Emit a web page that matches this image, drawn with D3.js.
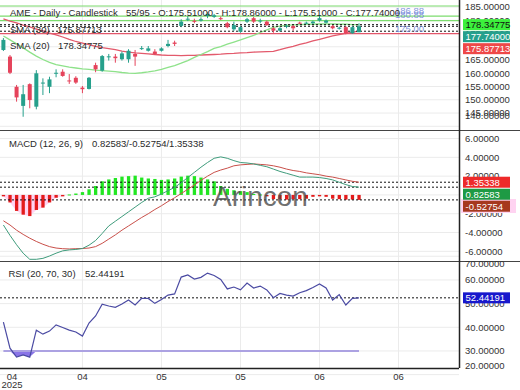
<!DOCTYPE html>
<html>
<head>
<meta charset="utf-8">
<script src="https://cdn.jsdelivr.net/npm/d3@7"></script>
<style>
  body { margin: 0; background: #fff; }
  svg { display: block; font-family: "Liberation Sans", Arial, sans-serif; }
</style>
</head>
<body>
<div id="chart"></div>
<script>
// daily candles (55 bars)
const opens  = [168.8, 166.3, 154.9, 147.7, 155.9, 147.4, 156.2, 154.9, 160.0, 160.6,
                157.3, 158.3, 154.6, 154.1, 163.1, 161.0, 166.2, 166.3, 165.3, 165.3,
                167.3, 169.4, 168.5, 168.2, 168.5, 170.3, 171.6, 177.9, 180.4, 179.8,
                179.9, 181.6, 181.3, 180.8, 178.9, 176.6, 175.7, 179.5, 180.8, 179.8,
                179.5, 177.0, 176.1, 177.8, 177.8, 179.1, 179.0, 178.9, 179.9, 179.1,
                177.8, 177.1, 177.4, 175.1, 175.51]
const highs  = [173.3, 166.9, 155.6, 155.6, 156.2, 161.2, 158.1, 158.7, 161.5, 161.5,
                159.7, 158.9, 155.2, 158.6, 164.0, 166.9, 167.3, 167.3, 168.2, 169.1,
                168.8, 170.3, 170.3, 169.1, 169.8, 172.6, 172.3, 180.4, 181.6, 180.6,
                181.1, 183.1, 182.4, 181.4, 179.4, 179.5, 177.9, 180.9, 181.3, 180.6,
                179.9, 177.4, 177.4, 178.6, 178.2, 179.5, 179.5, 179.9, 181.6, 180.3,
                178.2, 177.6, 177.8, 177.9, 178.86]
const lows   = [168.4, 159.7, 149.3, 143.6, 146.8, 146.4, 151.8, 152.5, 158.5, 158.7,
                156.0, 156.0, 152.5, 153.9, 160.4, 160.6, 164.8, 164.0, 164.8, 164.0,
                162.8, 168.8, 168.2, 166.9, 168.2, 169.8, 170.3, 177.4, 179.7, 178.9,
                179.5, 180.8, 180.9, 180.1, 177.0, 176.0, 175.3, 179.0, 179.0, 178.9,
                177.9, 175.3, 175.7, 177.0, 176.1, 178.6, 178.6, 178.6, 179.5, 178.8,
                176.6, 176.5, 174.7, 174.9, 175.51]
const closes = [172.6, 160.2, 150.9, 152.1, 149.9, 160.0, 156.5, 157.7, 160.2, 159.0,
                157.1, 156.5, 154.0, 158.3, 161.5, 166.5, 166.4, 165.7, 167.5, 168.5,
                166.3, 169.5, 169.4, 167.3, 169.4, 171.1, 171.1, 179.5, 180.6, 179.6,
                180.4, 182.4, 181.9, 180.7, 177.4, 178.2, 177.4, 180.4, 179.5, 179.9,
                178.2, 176.1, 177.0, 177.9, 177.0, 179.0, 179.1, 179.5, 180.8, 179.9,
                177.0, 177.2, 175.1, 177.4, 177.74]

// moving averages
const sma20 = [174.1, 172.6, 171.1, 169.6, 168.0, 166.5, 165.2, 164.1, 163.3, 162.8,
               162.3, 162.0, 161.7, 161.5, 161.2, 161.0, 160.8, 160.6, 160.3, 160.1,
               160.0, 160.2, 160.5, 160.9, 161.5, 162.2, 162.9, 163.8, 164.8, 166.0,
               167.1, 168.2, 169.4, 170.1, 171.0, 171.8, 172.6, 173.5, 174.3, 175.4,
               176.4, 177.3, 177.8, 178.1, 178.3, 178.4, 178.5, 178.5, 178.6, 178.6,
               178.6, 178.5, 178.5, 178.4, 178.35]
const sma30 = [180.5, 179.7, 179.0, 178.2, 177.5, 176.7, 176.0, 175.2, 174.5, 173.7,
               172.8, 172.0, 171.4, 170.8, 170.2, 169.7, 169.3, 168.9, 168.4, 168.0,
               167.7, 167.5, 167.3, 167.1, 166.9, 166.8, 166.8, 166.7, 166.8, 166.8,
               166.9, 167.0, 167.1, 167.2, 167.4, 167.5, 167.7, 167.8, 168.0, 168.1,
               168.2, 168.3, 168.9, 169.6, 170.2, 170.9, 171.5, 172.2, 172.8, 173.5,
               174.1, 174.6, 175.1, 175.5, 175.88]

// macd (12, 26, 9)
const macdLine = [-3.2, -4.3, -5.3, -6.2, -6.85, -6.85, -6.75, -6.5, -6.2, -5.95,
                  -5.85, -5.8, -5.7, -5.35, -4.85, -4.1, -3.3, -2.8, -2.3, -1.8,
                  -1.3, -0.8, -0.35, -0.2, 0.1, 0.45, 0.8, 1.3, 1.85, 2.4,
                  2.95, 3.45, 3.9, 4.05, 3.9, 3.65, 3.45, 3.4, 3.3, 3.15,
                  3.0, 2.75, 2.5, 2.3, 2.1, 1.9, 1.9, 1.9, 1.85, 1.75,
                  1.6, 1.35, 1.1, 0.9, 0.826]
const signalLine = [-2.75, -3.2, -3.75, -4.2, -4.6, -4.95, -5.25, -5.5, -5.65, -5.72,
                    -5.75, -5.72, -5.7, -5.65, -5.5, -5.15, -4.7, -4.25, -3.75, -3.3,
                    -2.85, -2.4, -2.0, -1.55, -1.15, -0.7, -0.3, 0.15, 0.6, 1.05,
                    1.55, 2.0, 2.4, 2.65, 2.85, 3.1, 3.2, 3.25, 3.3, 3.25,
                    3.2, 3.1, 2.95, 2.75, 2.6, 2.5, 2.35, 2.25, 2.15, 2.0,
                    1.9, 1.75, 1.6, 1.45, 1.353]
const histValues = [-0.15, -0.8, -1.7, -2.1, -2.25, -1.6, -1.35, -0.8, -0.3, -0.15,
                    0.05, 0.15, 0.3, 0.6, 0.95, 1.45, 1.65, 1.8, 1.95, 2.0,
                    2.05, 1.85, 1.75, 1.7, 1.6, 1.65, 1.75, 1.95, 2.05, 2.0,
                    1.85, 1.65, 1.45, 0.95, 0.65, 0.5, 0.4, 0.3, 0.1, 0.05,
                    -0.15, -0.45, -0.45, -0.5, -0.45, -0.45, -0.4, -0.2, -0.15, -0.2,
                    -0.4, -0.45, -0.5, -0.5, -0.528]

// rsi (20, 70, 30)
const rsiValues = [42.2, 31.2, 27.4, 28.3, 27.4, 38.8, 37.1, 38.4, 41.0, 39.9,
                   38.8, 38.0, 36.3, 41.8, 44.8, 49.8, 49.0, 48.4, 49.8, 51.5,
                   49.4, 52.2, 52.2, 50.1, 51.7, 53.6, 54.1, 61.2, 62.1, 60.4,
                   61.1, 62.9, 61.9, 60.2, 56.2, 57.0, 55.8, 58.7, 56.6, 57.4,
                   55.8, 52.5, 54.3, 53.6, 53.2, 54.6, 55.5, 56.8, 58.3, 56.6,
                   51.5, 53.8, 49.4, 52.2, 52.44]

// axis ticks and labels
const xTickIdx = [0, 12, 24, 36, 48, 60]
const xTickLabels = ['04', '04', '05', '05', '06', '06']
const priceTicks = [140, 145, 150, 155, 160, 165, 170, 175, 180, 185]
const macdTicks = [-6, -4, -2, 0, 2, 4, 6]
const rsiTicks = [20, 30, 40, 50, 60, 70]

// drawn horizontal levels on the price panel
const greenLevels = [185.4, 181.6, 179.85]
const redLevel = 175.0

var config = {
    width: 520,
    height: 390,
    plotRight: 459,
    price: {top: 0, bottom: 130},
    macd: {top: 130, bottom: 261},
    rsi: {top: 261, bottom: 368},
    upColor: '#26a08c',
    downColor: '#e5435b',
    font: '9.5px "Liberation Sans", Arial, sans-serif',
    grid: '#ebebeb'
}
const { width, height, plotRight, price, macd, rsi, upColor, downColor, font, grid } = config

const svg = d3.select('#chart')
    .append('svg')
    .attr('width', width)
    .attr('height', height)

// scales
const x = d3.scaleLinear().domain([0, closes.length - 1]).range([3.4, 359])
const yPrice = d3.scaleLinear().domain([138.6, 187.66]).range([price.bottom, price.top])
const yMacd = d3.scaleLinear().domain([-7.03, 6.91]).range([macd.bottom, macd.top])
const yRsi = d3.scaleLinear().domain([22.8, 68.0]).range([rsi.bottom, rsi.top])

// clip paths per panel
const defs = svg.append('defs')
function makeClip(id, p) {
    defs.append('clipPath').attr('id', id)
        .append('rect')
        .attr('x', 0).attr('y', p.top)
        .attr('width', plotRight).attr('height', p.bottom - p.top)
    return svg.append('g').attr('clip-path', 'url(#' + id + ')')
}

// vertical grid
svg.selectAll('.vgrid')
    .data(xTickIdx.slice(1))
    .enter().append('line')
    .attr('x1', d => x(d)).attr('x2', d => x(d))
    .attr('y1', 0).attr('y2', rsi.bottom)
    .style('stroke', grid)

// horizontal grid per panel
function hGrid(ticks, scale) {
    svg.append('g').selectAll('line')
        .data(ticks)
        .enter().append('line')
        .attr('x1', 0).attr('x2', plotRight)
        .attr('y1', d => scale(d)).attr('y2', d => scale(d))
        .style('stroke', grid)
}
hGrid(priceTicks, yPrice)
hGrid(macdTicks, yMacd)
hGrid(rsiTicks, yRsi)

// ---------- price panel ----------
const pg = makeClip('clip-price', price)

pg.selectAll('.green-level')
    .data(greenLevels)
    .enter().append('line')
    .attr('x1', 0).attr('x2', plotRight)
    .attr('y1', d => yPrice(d)).attr('y2', d => yPrice(d))
    .style('stroke', '#7ddc6e').style('stroke-width', 1.2)

pg.append('line')
    .attr('x1', 0).attr('x2', plotRight)
    .attr('y1', yPrice(redLevel)).attr('y2', yPrice(redLevel))
    .style('stroke', '#e2566a').style('stroke-width', 1.2)

const priceLine = d3.line().x((d, i) => x(i)).y(d => yPrice(d))
pg.append('path').datum(sma30).attr('d', priceLine)
    .style('fill', 'none').style('stroke', '#e35a6c').style('stroke-width', 1.3)
pg.append('path').datum(sma20).attr('d', priceLine)
    .style('fill', 'none').style('stroke', '#8ee28a').style('stroke-width', 1.3)

// last value dotted lines
pg.selectAll('.last-price')
    .data([sma20[sma20.length - 1], closes[closes.length - 1], sma30[sma30.length - 1]])
    .enter().append('line')
    .attr('x1', 0).attr('x2', plotRight)
    .attr('y1', d => yPrice(d)).attr('y2', d => yPrice(d))
    .style('stroke', '#111').style('stroke-dasharray', '2,2')

const candles = closes.map((c, i) => ({i: i, o: opens[i], h: highs[i], l: lows[i], c: c}))
pg.selectAll('.wick')
    .data(candles)
    .enter().append('line')
    .attr('x1', d => x(d.i)).attr('x2', d => x(d.i))
    .attr('y1', d => yPrice(d.h)).attr('y2', d => yPrice(d.l))
    .style('stroke', d => d.c >= d.o ? upColor : downColor)
pg.selectAll('.body')
    .data(candles)
    .enter().append('rect')
    .attr('x', d => x(d.i) - 2)
    .attr('width', 4)
    .attr('y', d => yPrice(Math.max(d.o, d.c)))
    .attr('height', d => Math.max(1, Math.abs(yPrice(d.o) - yPrice(d.c))))
    .style('fill', d => d.c >= d.o ? upColor : downColor)

// level labels of the drawings
const levelText = [['186.88', 14], ['180.88', 18], ['175.00', 32]]
pg.selectAll('.level-text')
    .data(levelText)
    .enter().append('text')
    .attr('x', 395).attr('y', d => d[1])
    .text(d => d[0])
    .style('font', font).style('fill', '#6f86d8').style('opacity', 0.85)

// legend
function legendText(txt, xx, yy) {
    svg.append('text').attr('x', xx).attr('y', yy).text(txt)
        .style('font', font).style('fill', '#2a2a2a')
}
legendText('AME - Daily - Candlestick', 10, 16)
legendText('55/95 - O:175.51000 - H:178.86000 - L:175.51000 - C:177.74000', 126, 16)
legendText('SMA (30)', 10, 33)
legendText('175.87713', 57, 33)
legendText('SMA (20)', 10, 49)
legendText('178.34775', 58, 49)

// ---------- macd panel ----------
const mg = makeClip('clip-macd', macd)

// pink shade under the first negative run
const firstRun = histValues.map((v, i) => ({i: i, v: v})).filter(d => d.i < 10)
mg.append('path')
    .datum(firstRun)
    .attr('d', d3.area().x(d => x(d.i)).y0(yMacd(0)).y1(d => yMacd(Math.min(0, d.v))))
    .style('fill', '#ffd3f1')

mg.selectAll('.hist')
    .data(histValues)
    .enter().append('rect')
    .attr('x', (d, i) => x(i) - 1.6)
    .attr('width', 3.3)
    .attr('y', d => yMacd(Math.max(0, d)))
    .attr('height', d => Math.max(1, Math.abs(yMacd(d) - yMacd(0))))
    .style('fill', d => d >= 0 ? '#22e622' : '#e41b1b')

mg.selectAll('.last-macd')
    .data([signalLine[signalLine.length - 1], macdLine[macdLine.length - 1], histValues[histValues.length - 1]])
    .enter().append('line')
    .attr('x1', 0).attr('x2', plotRight)
    .attr('y1', d => yMacd(d)).attr('y2', d => yMacd(d))
    .style('stroke', '#111').style('stroke-dasharray', '2,2')

const macdPath = d3.line().x((d, i) => x(i)).y(d => yMacd(d))
mg.append('path').datum(signalLine).attr('d', macdPath)
    .style('fill', 'none').style('stroke', '#c9504a').style('stroke-width', 1)
mg.append('path').datum(macdLine).attr('d', macdPath)
    .style('fill', 'none').style('stroke', '#3f9c7c').style('stroke-width', 1)

legendText('MACD (12, 26, 9)', 9, 146.5)
legendText('0.82583/-0.52754/1.35338', 92, 146.5)

// watermark
svg.append('text')
    .attr('x', 213).attr('y', 206)
    .text('Arincon')
    .style('font', '28px "Liberation Sans", Arial, sans-serif')
    .style('fill', '#4d4d4d').style('opacity', 0.8)

// ---------- rsi panel ----------
const rg = makeClip('clip-rsi', rsi)

rg.append('path')
    .datum(rsiValues)
    .attr('d', d3.area().x((d, i) => x(i)).y0(yRsi(30)).y1(d => yRsi(Math.min(30, d))))
    .style('fill', '#8a74e8')

rg.append('line')
    .attr('x1', x(0)).attr('x2', x(rsiValues.length - 1))
    .attr('y1', yRsi(30)).attr('y2', yRsi(30))
    .style('stroke', '#aca2e2').style('stroke-width', 2)

rg.append('line')
    .attr('x1', 0).attr('x2', plotRight)
    .attr('y1', yRsi(rsiValues[rsiValues.length - 1])).attr('y2', yRsi(rsiValues[rsiValues.length - 1]))
    .style('stroke', '#111').style('stroke-dasharray', '2,2')

rg.append('path')
    .datum(rsiValues)
    .attr('d', d3.line().x((d, i) => x(i)).y(d => yRsi(d)))
    .style('fill', 'none').style('stroke', '#4b4ba3').style('stroke-width', 1.2)

legendText('RSI (20, 70, 30)', 8.5, 277)
legendText('52.44191', 85, 277)

// ---------- frame ----------
svg.append('line').attr('x1', 0).attr('x2', width).attr('y1', macd.top + 0.5).attr('y2', macd.top + 0.5)
    .style('stroke', '#444')
svg.append('line').attr('x1', 0).attr('x2', width).attr('y1', rsi.top + 0.5).attr('y2', rsi.top + 0.5)
    .style('stroke', '#444')
svg.append('line').attr('x1', 0).attr('x2', plotRight).attr('y1', rsi.bottom + 0.5).attr('y2', rsi.bottom + 0.5)
    .style('stroke', '#222').style('stroke-width', 1.5)
svg.append('line').attr('x1', plotRight + 0.5).attr('x2', plotRight + 0.5).attr('y1', 0).attr('y2', rsi.bottom)
    .style('stroke', '#222').style('stroke-width', 1.5)

// ---------- right axis labels ----------
function axisLabels(ticks, scale, lo, hi) {
    svg.append('g').selectAll('text')
        .data(ticks)
        .enter().append('text')
        .attr('x', 465)
        .attr('y', d => Math.min(hi, Math.max(lo, scale(d))))
        .attr('dy', '0.35em')
        .text(d => d3.format('.5f')(d).replace('\u2212', '-'))
        .style('font', font).style('fill', '#333')
}
axisLabels(priceTicks, yPrice, 4, 115.5)
axisLabels(macdTicks, yMacd, 136, 252)
axisLabels(rsiTicks, yRsi, 264, 366)

// value boxes, pushed apart so they don't overlap
function valueBoxes(items, scale, gap) {
    items.sort((a, b) => scale(a.v) - scale(b.v))
    let last = -Infinity
    items.forEach(d => {
        d.y = Math.max(scale(d.v), last + gap)
        last = d.y
    })
    const g = svg.append('g')
    g.selectAll('rect')
        .data(items)
        .enter().append('rect')
        .attr('x', 463).attr('y', d => d.y - 5.5)
        .attr('width', 47).attr('height', 11)
        .style('fill', d => d.bg)
    g.selectAll('text')
        .data(items)
        .enter().append('text')
        .attr('x', 465.5).attr('y', d => d.y)
        .attr('dy', '0.35em')
        .text(d => d.label)
        .style('font', font).style('fill', d => d.fg)
}

valueBoxes([
    {v: sma20[sma20.length - 1], label: '178.34775', bg: '#3cf03c', fg: '#111'},
    {v: closes[closes.length - 1], label: '177.74000', bg: '#26a08c', fg: '#fff'},
    {v: sma30[sma30.length - 1], label: '175.87713', bg: '#ee4848', fg: '#fff'}
], yPrice, 12)

// pink backdrop of the histogram box
svg.append('rect')
    .attr('x', 461).attr('y', 199).attr('width', 55).attr('height', 14)
    .style('fill', '#ffd3f1')

valueBoxes([
    {v: signalLine[signalLine.length - 1], label: '1.35338', bg: '#ee2a2a', fg: '#fff'},
    {v: macdLine[macdLine.length - 1], label: '0.82583', bg: '#1e9a44', fg: '#fff'},
    {v: histValues[histValues.length - 1], label: '-0.52754', bg: '#a6381e', fg: '#fff'}
], yMacd, 12)

valueBoxes([
    {v: rsiValues[rsiValues.length - 1], label: '52.44191', bg: '#1818cc', fg: '#fff'}
], yRsi, 12)

// ---------- x axis ----------
svg.selectAll('.xlabel')
    .data(xTickIdx)
    .enter().append('text')
    .attr('x', d => Math.max(12, x(d)))
    .attr('y', 380)
    .attr('text-anchor', 'middle')
    .text((d, i) => xTickLabels[i])
    .style('font', font).style('fill', '#333')

svg.append('text')
    .attr('x', 12).attr('y', 388)
    .attr('text-anchor', 'middle')
    .text('2025')
    .style('font', font).style('fill', '#333')
</script>
</body>
</html>
